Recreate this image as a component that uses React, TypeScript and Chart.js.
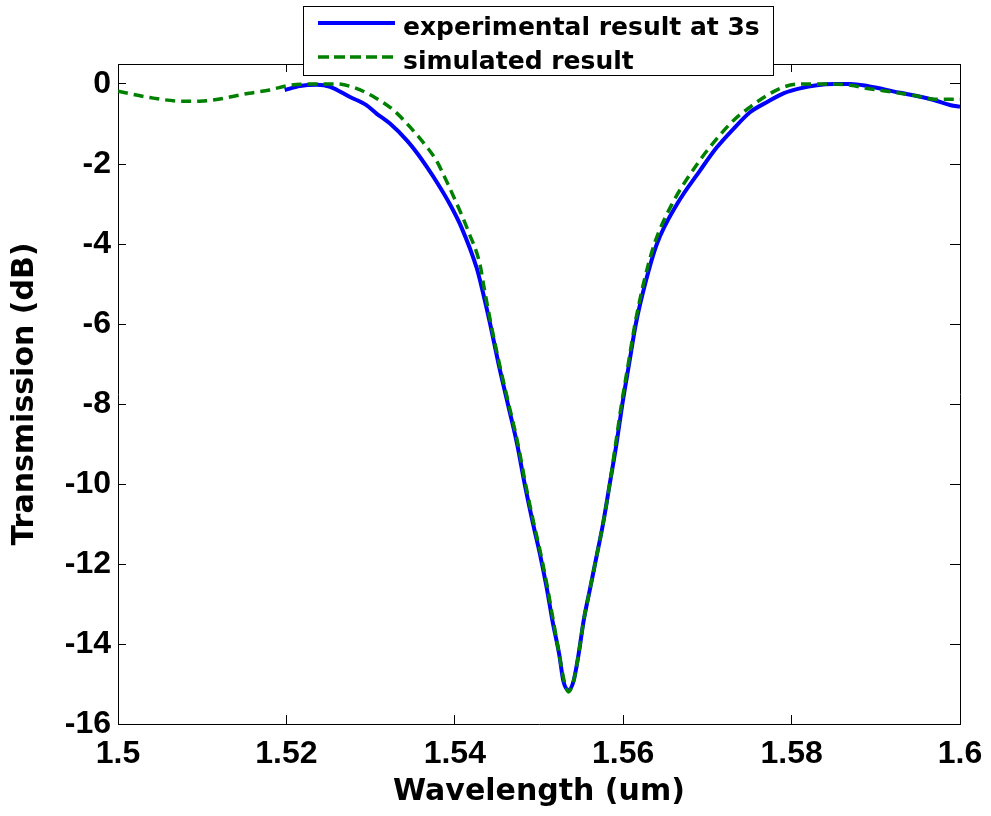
import React, { useEffect, useRef } from "react";
import { Chart, registerables } from "chart.js";

Chart.register(...registerables);

// ---- data ----
const expWavelength = [
  1.5198, 1.5216, 1.5236, 1.5252, 1.5275, 1.5295, 1.5307, 1.5323, 1.5343, 1.5356,
  1.5367, 1.538, 1.5394, 1.5408, 1.5426, 1.5431, 1.5442, 1.5452, 1.5463, 1.5474,
  1.5483, 1.5493, 1.5501, 1.5509, 1.5516, 1.5524, 1.5529, 1.5535, 1.5541, 1.5547,
  1.5553, 1.5561, 1.5569, 1.5576, 1.5584, 1.5592, 1.5599, 1.5607, 1.5615, 1.5626,
  1.564, 1.5664, 1.5691, 1.5711, 1.5731, 1.5751, 1.5771, 1.5791, 1.581, 1.583,
  1.585, 1.587, 1.589, 1.5909, 1.5929, 1.5949, 1.5969, 1.5989, 1.6,
];
const expTransmission = [
  -0.15, -0.05, -0.02, -0.07, -0.32, -0.53, -0.74, -0.99, -1.41, -1.75,
  -2.08, -2.5, -3.0, -3.59, -4.6, -5.0, -6.0, -7.0, -8.0, -9.0,
  -10.0, -11.0, -11.74, -12.58, -13.42, -14.26, -14.93, -15.15, -14.93, -14.26,
  -13.42, -12.58, -11.74, -11.0, -10.0, -9.0, -8.0, -7.0, -6.0, -5.0,
  -4.0, -3.0, -2.17, -1.59, -1.12, -0.7, -0.45, -0.23, -0.11, -0.03,
  0.0, 0.0, -0.05, -0.13, -0.22, -0.3, -0.4, -0.53, -0.57,
];

const simWavelength = [
  1.5, 1.5038, 1.5077, 1.5097, 1.5117, 1.5148, 1.5156, 1.518, 1.5204, 1.5236,
  1.526, 1.5283, 1.5307, 1.5327, 1.5347, 1.5367, 1.5378, 1.539, 1.5406, 1.5416,
  1.543, 1.5434, 1.5443, 1.5453, 1.5464, 1.5475, 1.5484, 1.5494, 1.5502, 1.551,
  1.5517, 1.5524, 1.553, 1.5535, 1.5541, 1.5547, 1.5553, 1.5561, 1.5569, 1.5576,
  1.5584, 1.5591, 1.5598, 1.5606, 1.5614, 1.5624, 1.5637, 1.5658, 1.5691, 1.5711,
  1.5731, 1.5751, 1.5771, 1.579, 1.581, 1.583, 1.585, 1.587, 1.589, 1.5909,
  1.5929, 1.5949, 1.5969, 1.6,
];
const simTransmission = [
  -0.18, -0.34, -0.43, -0.43, -0.39, -0.26, -0.23, -0.15, -0.03, 0.0,
  0.0, -0.11, -0.36, -0.65, -1.08, -1.58, -1.91, -2.42, -3.17, -3.68,
  -4.52, -5.0, -6.0, -7.0, -8.0, -9.0, -10.0, -11.0, -11.74, -12.58,
  -13.42, -14.26, -14.93, -15.2, -14.93, -14.26, -13.42, -12.58, -11.74, -11.0,
  -10.0, -9.0, -8.0, -7.0, -6.0, -5.0, -4.0, -3.0, -1.91, -1.37,
  -0.91, -0.57, -0.28, -0.08, 0.0, 0.0, 0.0, -0.03, -0.11, -0.17,
  -0.23, -0.3, -0.38, -0.38,
];

const xTicks = [1.5, 1.52, 1.54, 1.56, 1.58, 1.6];
const xTickLabels = ["1.5", "1.52", "1.54", "1.56", "1.58", "1.6"];
const yTicks = [-16, -14, -12, -10, -8, -6, -4, -2, 0];
const yTickLabels = ["-16", "-14", "-12", "-10", "-8", "-6", "-4", "-2", "0"];
const seriesLabels = ["experimental result at 3s", "simulated result"];
const xTitle = "Wavelength (um)";
const yTitle = "Transmission (dB)";

const X_MIN = 1.5;
const X_MAX = 1.6;
const Y_MIN = -16;
const Y_MAX = 0.5;

const tickFont = { family: '"Liberation Sans", Arial, sans-serif', size: 32, weight: "bold" as const };
const titleFont = { family: '"DejaVu Sans", sans-serif', size: 30, weight: "bold" as const };

const boxLegend = {
  id: "boxLegend",
  afterDraw(chart: any) {
    const ctx = chart.ctx as CanvasRenderingContext2D;
    const bx = 303, by = 6, bw = 470, bh = 69;
    ctx.save();
    ctx.fillStyle = "#ffffff";
    ctx.fillRect(bx, by, bw, bh);
    ctx.strokeStyle = "#000000";
    ctx.lineWidth = 1;
    ctx.strokeRect(bx + 0.5, by + 0.5, bw, bh);
    const rows = [23, 57];
    const textRows = [35, 68.5];
    chart.data.datasets.forEach((ds: any, i: number) => {
      ctx.beginPath();
      ctx.strokeStyle = ds.borderColor;
      ctx.lineWidth = ds.borderWidth;
      ctx.setLineDash(ds.borderDash ? [11, 5] : []);
      ctx.moveTo(318, rows[i]);
      ctx.lineTo(395, rows[i]);
      ctx.stroke();
      ctx.setLineDash([]);
      ctx.fillStyle = "#000000";
      ctx.font = 'bold 25px "DejaVu Sans", sans-serif';
      ctx.textAlign = "left";
      ctx.textBaseline = "alphabetic";
      ctx.fillText(ds.label, 403, textRows[i]);
    });
    ctx.restore();
  },
};

export default function App() {
  const ref = useRef<HTMLCanvasElement | null>(null);

  useEffect(() => {
    if (!ref.current) return;
    const gridOpts = (len: number) => ({
      display: true,
      drawOnChartArea: false,
      drawTicks: true,
      tickLength: -len,
      color: "#000000",
      lineWidth: 1,
    });
    const border = { display: true, color: "#000000", width: 1 };
    const noPad = (s: any) => {
      s.paddingLeft = 0;
      s.paddingRight = 0;
      s.paddingTop = 0;
      s.paddingBottom = 0;
    };

    const chart = new Chart(ref.current, {
      type: "line",
      data: {
        datasets: [
          {
            label: seriesLabels[0],
            data: expWavelength.map((w, i) => ({ x: w, y: expTransmission[i] })),
            borderColor: "#0000ff",
            borderWidth: 4,
            pointRadius: 0,
            fill: false,
            cubicInterpolationMode: "monotone",
            order: 1,
          },
          {
            label: seriesLabels[1],
            data: simWavelength.map((w, i) => ({ x: w, y: simTransmission[i] })),
            borderColor: "#008000",
            borderWidth: 3.5,
            borderDash: [10, 6],
            pointRadius: 0,
            fill: false,
            cubicInterpolationMode: "monotone",
            order: 0,
          },
        ],
      },
      options: {
        responsive: false,
        animation: false,
        layout: { padding: { top: 64, right: 31, bottom: 0, left: 0 } },
        plugins: { legend: { display: false }, tooltip: { enabled: false } },
        scales: {
          x: {
            type: "linear",
            position: "bottom",
            min: X_MIN,
            max: X_MAX,
            afterBuildTicks: (s: any) => {
              s.ticks = xTicks.map((v) => ({ value: v }));
            },
            afterFit: (s: any) => {
              s.height = 92;
              noPad(s);
            },
            ticks: {
              callback: (_v: any, i: number) => xTickLabels[i],
              font: tickFont,
              color: "#000000",
              padding: 20,
              autoSkip: false,
              maxRotation: 0,
            },
            grid: gridOpts(9),
            border,
            title: {
              display: true,
              text: xTitle,
              font: titleFont,
              color: "#000000",
              padding: { top: 0, bottom: 6 },
            },
          },
          x2: {
            type: "linear",
            position: "top",
            min: X_MIN,
            max: X_MAX,
            afterBuildTicks: (s: any) => {
              s.ticks = xTicks.map((v) => ({ value: v }));
            },
            afterFit: (s: any) => {
              s.height = 0;
              noPad(s);
            },
            ticks: { display: false },
            grid: gridOpts(8),
            border,
          },
          y: {
            type: "linear",
            position: "left",
            min: Y_MIN,
            max: Y_MAX,
            afterBuildTicks: (s: any) => {
              s.ticks = yTicks.map((v) => ({ value: v }));
            },
            afterFit: (s: any) => {
              s.width = 118;
              noPad(s);
            },
            ticks: {
              callback: (_v: any, i: number) => yTickLabels[i],
              font: tickFont,
              color: "#000000",
              padding: 15,
              autoSkip: false,
            },
            grid: gridOpts(8),
            border,
            title: {
              display: true,
              text: yTitle,
              font: titleFont,
              color: "#000000",
              padding: { top: 7, bottom: 0 },
            },
          },
          y2: {
            type: "linear",
            position: "right",
            min: Y_MIN,
            max: Y_MAX,
            afterBuildTicks: (s: any) => {
              s.ticks = yTicks.map((v) => ({ value: v }));
            },
            afterFit: (s: any) => {
              s.width = 0;
              noPad(s);
            },
            ticks: { display: false },
            grid: gridOpts(10),
            border,
          },
        },
      } as any,
      plugins: [boxLegend],
    });
    return () => chart.destroy();
  }, []);

  return (
    <div style={{ position: "fixed", left: 0, top: 0, width: 991, height: 816, background: "#ffffff" }}>
      <canvas ref={ref} width={991} height={816} style={{ width: 991, height: 816, display: "block" }} />
    </div>
  );
}
